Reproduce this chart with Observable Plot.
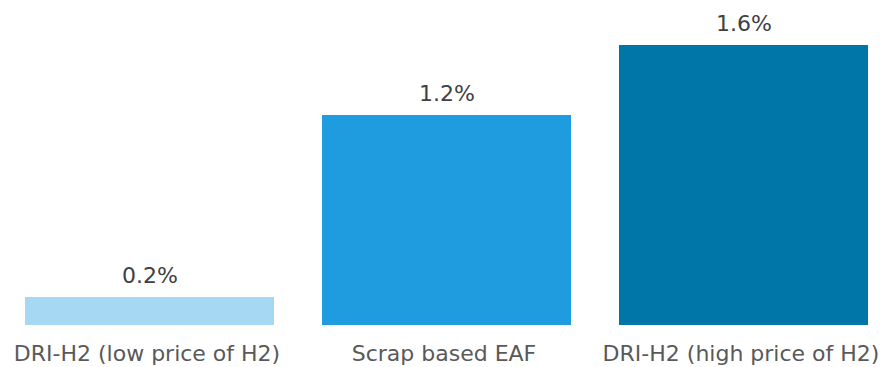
<!DOCTYPE html>
<html>
<head>
<meta charset="utf-8">
<script src="https://cdn.jsdelivr.net/npm/d3@7"></script>
<script src="https://cdn.jsdelivr.net/npm/@observablehq/plot@0.6"></script>
<style>
  html, body { margin: 0; padding: 0; background: #ffffff; }
</style>
</head>
<body>
<div id="chart"></div>
<script>
const categories = ["DRI-H2 (low price of H2)", "Scrap based EAF", "DRI-H2 (high price of H2)"];
const values = [0.16, 1.2, 1.6];
const colors = ["#a6d8f4", "#1e9cdf", "#0075a8"];

const data = categories.map((c, i) => ({category: c, value: values[i], color: colors[i]}));
const fmt = d => d3.format(".1f")(d) + "%";

const chart = Plot.plot({
  width: 887,
  height: 367,
  marginLeft: 24,
  marginRight: 19,
  marginTop: 45,
  marginBottom: 42,
  style: {fontFamily: "'DejaVu Sans', Verdana, sans-serif", fontSize: "22px", background: "#ffffff"},
  x: {domain: categories, paddingInner: 0.163, paddingOuter: 0, label: null},
  y: {domain: [0, 1.6], axis: null},
  marks: [
    Plot.barY(data, {x: "category", y: "value", fill: "color"}),
    Plot.text(data, {x: "category", y: "value", text: d => fmt(d.value), lineAnchor: "bottom", dy: -15, fontSize: 22, fill: "#404040"}),
    Plot.axisX({tickSize: 0, tickPadding: 20, dx: -3, fontSize: 22, fill: "#595959", label: null})
  ]
});
document.getElementById("chart").appendChild(chart);
</script>
</body>
</html>
